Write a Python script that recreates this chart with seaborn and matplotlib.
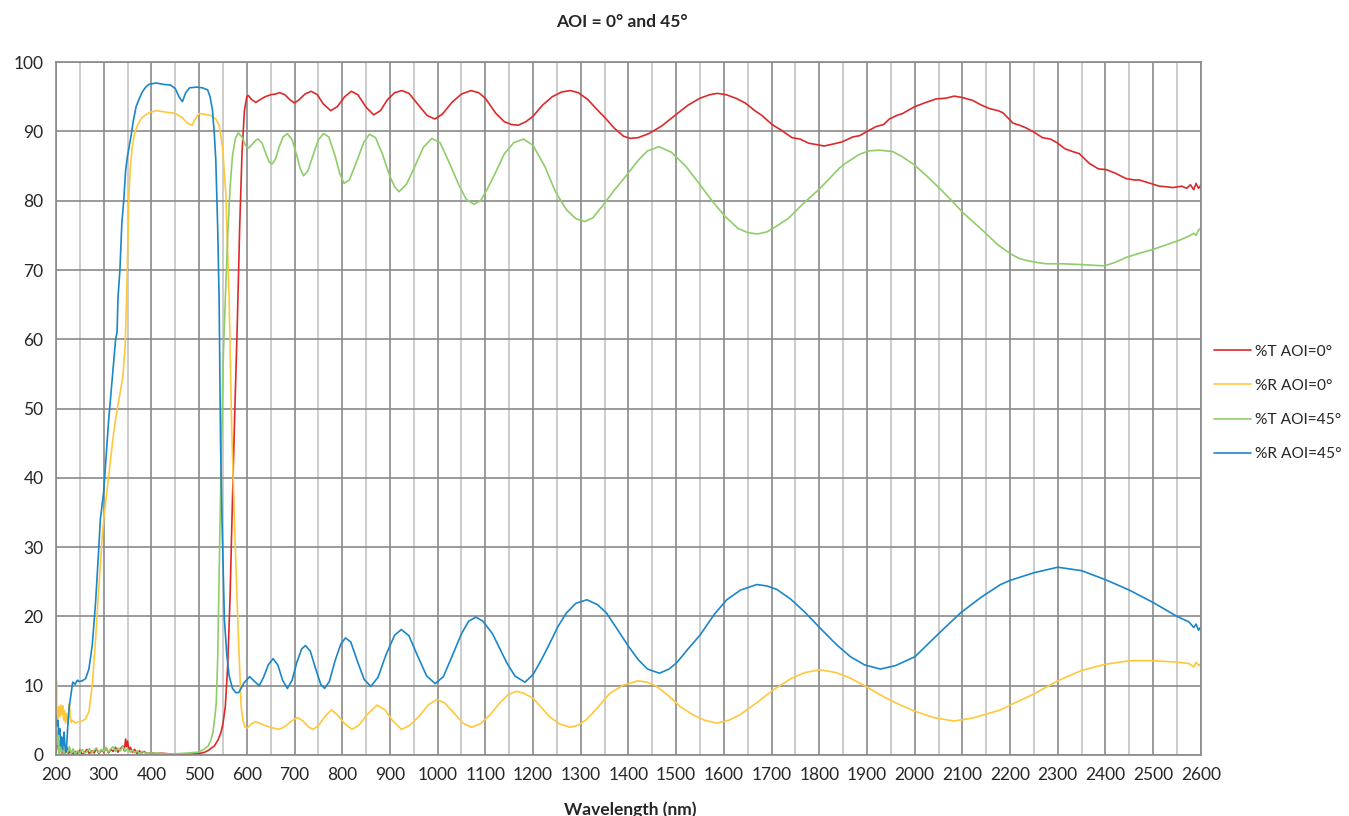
import matplotlib
matplotlib.use("Agg")
import matplotlib.pyplot as plt
import seaborn as sns
import numpy as np

# %T AOI=0 (red)
t0_wl = [200, 203, 206, 209, 212, 215, 218, 222, 226, 230, 235, 240, 245, 250, 255, 260, 265, 270, 275, 280,
         285, 290, 295, 300, 305, 310, 315, 320, 325, 330, 335, 340, 343, 346, 348, 350, 353, 356, 360, 365,
         370, 375, 380, 385, 390, 400, 410, 420, 440, 460, 480, 500, 512, 520, 532, 540, 546, 550, 555, 560,
         565, 570, 575, 580, 585, 590, 595, 600, 603, 610, 619, 628, 638, 650, 660, 669, 680, 690, 700, 710,
         722, 735, 748, 760, 776, 790, 805, 819, 833, 850, 866, 880, 895, 910, 925, 940, 960, 978, 994, 1010,
         1030, 1050, 1070, 1086, 1100, 1121, 1140, 1155, 1169, 1185, 1200, 1220, 1240, 1260, 1278, 1295, 1315,
         1335, 1352, 1370, 1390, 1404, 1420, 1443, 1470, 1499, 1525, 1550, 1570, 1586, 1605, 1625, 1645, 1665,
         1680, 1701, 1720, 1743, 1760, 1778, 1795, 1810, 1830, 1848, 1870, 1885, 1900, 1919, 1935, 1947, 1962,
         1975, 1990, 2001, 2020, 2045, 2065, 2083, 2100, 2121, 2140, 2157, 2175, 2185, 2195, 2206, 2220, 2234,
         2250, 2268, 2285, 2300, 2315, 2331, 2345, 2366, 2385, 2401, 2420, 2443, 2460, 2471, 2490, 2513, 2530,
         2541, 2560, 2570, 2578, 2585, 2590, 2595, 2600]
t0_val = [0.5, 2.6, 0.3, 1.8, 0.2, 0.9, 0.1, 1.2, 0.2, 0.6, 0.1, 0.5, 0.2, 0.7, 0.1, 0.4, 0.8, 0.2, 0.6, 0.3,
          0.9, 0.2, 0.7, 0.4, 1.0, 0.3, 0.8, 0.5, 1.1, 0.4, 0.9, 1.3, 0.6, 2.3, 1.2, 2.0, 0.7, 1.1, 0.4, 0.8,
          0.2, 0.6, 0.3, 0.5, 0.2, 0.3, 0.2, 0.25, 0.15, 0.1, 0.1, 0.2, 0.4, 0.7, 1.3, 2.2, 3.3, 4.5, 7.0, 13,
          23, 37, 50, 62, 76, 87, 93, 95.0, 95.2, 94.6, 94.2, 94.6, 95.0, 95.3, 95.4, 95.6, 95.3, 94.6, 94.1, 94.6,
          95.4, 95.8, 95.3, 94.0, 93.0, 93.6, 95.0, 95.8, 95.3, 93.5, 92.4, 93.0, 94.6, 95.6, 95.9, 95.5, 93.8,
          92.3, 91.8, 92.5, 94.2, 95.4, 95.9, 95.6, 94.8, 92.7, 91.4, 91.0, 90.9, 91.4, 92.2, 93.8, 95.0, 95.7,
          95.9, 95.6, 94.6, 93.1, 91.9, 90.5, 89.3, 89.0, 89.1, 89.7, 90.8, 92.4, 93.8, 94.8, 95.3, 95.5, 95.3,
          94.8, 94.1, 93.0, 92.3, 91.0, 90.2, 89.1, 88.9, 88.3, 88.1, 87.9, 88.2, 88.5, 89.2, 89.4, 90.0, 90.7,
          91.0, 91.8, 92.3, 92.6, 93.2, 93.6, 94.1, 94.7, 94.8, 95.1, 94.9, 94.5, 93.8, 93.3, 93.0, 92.7, 92.0,
          91.2, 90.9, 90.5, 89.9, 89.1, 88.9, 88.3, 87.5, 87.1, 86.8, 85.4, 84.6, 84.5, 84.0, 83.2, 83.0, 83.0,
          82.6, 82.1, 82.0, 81.9, 82.1, 81.8, 82.3, 81.6, 82.5, 81.8, 82.2]

# %R AOI=0 (yellow)
r0_wl = [200, 201, 202, 204, 206, 208, 210, 212, 214, 216, 218, 220, 222, 224, 226, 228, 230, 232, 235, 240,
         248, 255, 262, 269, 276, 283, 290, 297, 300, 305, 310, 315, 320, 325, 330, 335, 340, 345, 348, 351,
         353, 356, 360, 365, 371, 380, 395, 410, 430, 450, 465, 475, 485, 492, 500, 510, 525, 535, 542, 549,
         556, 563, 568, 574, 581, 588, 592, 596, 601, 610, 619, 630, 640, 655, 668, 680, 692, 706, 718, 730,
         739, 750, 763, 777, 790, 805, 821, 835, 852, 873, 890, 905, 924, 940, 960, 980, 998, 1015, 1035, 1053,
         1071, 1090, 1110, 1130, 1148, 1165, 1180, 1200, 1218, 1235, 1255, 1277, 1295, 1312, 1335, 1361, 1390,
         1420, 1440, 1459, 1485, 1508, 1535, 1560, 1585, 1610, 1634, 1670, 1704, 1740, 1770, 1802, 1835, 1865,
         1900, 1935, 1970, 2001, 2040, 2082, 2120, 2150, 2180, 2200, 2250, 2300, 2350, 2400, 2450, 2500, 2550,
         2575, 2585, 2590, 2595, 2600]
r0_val = [6.0, 10.7, 6.5, 5.2, 7.0, 5.5, 7.2, 5.8, 7.1, 5.0, 6.4, 4.6, 6.0, 5.2, 4.5, 7.4, 5.5, 4.7, 5.0, 4.6,
          4.8, 4.9, 5.2, 6.2, 10.0, 16.7, 24.4, 31.6, 34.0, 37, 40, 43, 46, 48.5, 50.5, 52.5, 54.5, 59, 66, 75,
          81, 85, 87.8, 89.8, 90.9, 92.0, 92.7, 93.0, 92.8, 92.6, 92.0, 91.2, 90.9, 91.8, 92.6, 92.5, 92.3, 91.8,
          90.9, 87.8, 81.1, 65.7, 48, 34, 19.6, 7.1, 5.0, 4.0, 3.9, 4.5, 4.8, 4.5, 4.2, 3.9, 3.7, 4.1, 4.8, 5.4,
          4.9, 4.0, 3.7, 4.2, 5.5, 6.5, 5.8, 4.5, 3.7, 4.3, 5.8, 7.2, 6.5, 5.0, 3.7, 4.2, 5.5, 7.2, 8.0, 7.5,
          6.0, 4.6, 4.0, 4.5, 5.8, 7.5, 8.7, 9.2, 8.9, 8.2, 6.8, 5.5, 4.5, 4.0, 4.3, 5.1, 6.8, 8.9, 10.1, 10.7,
          10.5, 9.9, 8.5, 7.0, 5.8, 5.0, 4.6, 5.0, 5.8, 7.6, 9.4, 11.0, 11.9, 12.3, 11.9, 11.1, 9.8, 8.4, 7.2,
          6.3, 5.4, 4.9, 5.3, 5.9, 6.5, 7.2, 8.8, 10.7, 12.2, 13.1, 13.6, 13.6, 13.4, 13.2, 12.7, 13.4, 12.9, 13.2]

# %T AOI=45 (green)
t45_wl = [200, 202, 204, 206, 208, 211, 214, 217, 220, 224, 228, 232, 236, 240, 245, 250, 255, 260, 265, 270,
          275, 280, 285, 290, 295, 300, 305, 310, 315, 320, 325, 330, 335, 340, 345, 350, 355, 360, 365, 370,
          375, 380, 390, 400, 420, 440, 460, 480, 498, 510, 519, 525, 529, 533, 536, 539, 543, 547, 551, 555,
          560, 565, 570, 576, 582, 590, 597, 604, 612, 620, 624, 632, 640, 647, 653, 660, 668, 676, 685, 695,
          705, 712, 719, 728, 740, 750, 761, 772, 785, 795, 804, 815, 830, 845, 857, 870, 885, 900, 910, 919,
          935, 950, 970, 988, 1005, 1025, 1045, 1060, 1076, 1090, 1105, 1121, 1140, 1160, 1180, 1200, 1225, 1247,
          1270, 1290, 1308, 1325, 1345, 1370, 1394, 1420, 1440, 1464, 1490, 1520, 1548, 1575, 1603, 1630, 1650,
          1670, 1690, 1710, 1736, 1765, 1799, 1820, 1842, 1855, 1884, 1905, 1926, 1954, 1975, 1999, 2025, 2052,
          2075, 2101, 2125, 2149, 2175, 2202, 2218, 2233, 2255, 2276, 2310, 2345, 2370, 2398, 2420, 2443, 2470,
          2501, 2530, 2555, 2575, 2585, 2590, 2595, 2600]
t45_val = [5.0, 1.5, 3.5, 0.2, 2.0, 0.3, 1.1, 0.1, 0.8, 0.3, 1.2, 0.2, 0.9, 0.1, 0.6, 0.3, 0.8, 0.2, 0.5, 0.9,
           0.3, 0.7, 1.0, 0.3, 0.8, 0.5, 1.1, 0.4, 0.9, 1.2, 0.5, 1.0, 0.6, 1.3, 0.5, 0.9, 0.4, 0.7, 0.3, 0.6,
           0.2, 0.5, 0.2, 0.3, 0.2, 0.15, 0.2, 0.3, 0.4, 0.8, 1.3, 2.2, 3.3, 5.5, 7.5, 14, 30, 45, 58, 66,
           75, 82, 86.5, 89.0, 89.8, 89.2, 88.0, 87.6, 88.2, 88.8, 88.9, 88.3, 86.8, 85.6, 85.3, 86.0, 87.8, 89.2,
           89.7, 88.8, 86.5, 84.6, 83.6, 84.3, 86.8, 88.8, 89.7, 89.2, 86.5, 83.9, 82.5, 83.0, 85.6, 88.4, 89.6,
           89.1, 86.6, 83.5, 82.0, 81.3, 82.4, 84.6, 87.7, 89.0, 88.4, 85.4, 82.2, 80.2, 79.5, 80.0, 81.8, 84.0,
           86.8, 88.4, 88.9, 88.0, 84.9, 81.3, 78.7, 77.4, 77.0, 77.5, 79.2, 81.5, 83.5, 85.8, 87.2, 87.8, 87.0,
           85.0, 82.5, 80.0, 77.7, 76.0, 75.4, 75.2, 75.5, 76.3, 77.5, 79.5, 81.6, 83.1, 84.7, 85.4, 86.7, 87.2,
           87.3, 87.1, 86.3, 85.2, 83.6, 81.8, 80.2, 78.3, 76.8, 75.3, 73.6, 72.3, 71.7, 71.4, 71.1, 70.9, 70.9,
           70.8, 70.7, 70.6, 71.1, 71.8, 72.4, 73.0, 73.7, 74.3, 74.9, 75.3, 75.0, 75.8, 76.0]

# %R AOI=45 (blue)
r45_wl = [200, 202, 204, 206, 208, 210, 212, 214, 216, 217, 219, 221, 223, 224, 226, 228, 231, 235, 240, 245,
          248, 255, 262, 269, 276, 283, 290, 293, 300, 305, 310, 315, 320, 325, 328, 330, 334, 338, 342, 346,
          350, 357, 362, 368, 375, 381, 388, 395, 410, 425, 440, 450, 458, 465, 472, 480, 495, 507, 518, 523,
          528, 532, 535, 539, 542, 545, 548, 553, 558, 563, 570, 577, 583, 594, 606, 615, 626, 635, 645, 655,
          665, 675, 685, 695, 705, 715, 723, 733, 745, 755, 763, 773, 785, 797, 807, 818, 832, 846, 860, 875,
          892, 910, 924, 940, 958, 977, 995, 1012, 1030, 1050, 1065, 1080, 1095, 1115, 1130, 1145, 1162, 1183,
          1200, 1218, 1235, 1252, 1270, 1290, 1313, 1335, 1354, 1375, 1400, 1420, 1440, 1465, 1485, 1501, 1525,
          1550, 1580, 1606, 1635, 1669, 1690, 1711, 1740, 1770, 1802, 1835, 1865, 1895, 1928, 1960, 2001, 2050,
          2096, 2140, 2180, 2200, 2250, 2300, 2350, 2400, 2450, 2500, 2550, 2575, 2585, 2590, 2595, 2600]
r45_val = [5.7, 4.2, 5.0, 3.0, 3.8, 1.3, 2.6, 0.8, 2.2, 3.3, 1.0, 0.4, 2.0, 3.3, 5.5, 7.1, 8.5, 10.5, 10.2, 10.8,
           10.6, 10.7, 11.0, 12.4, 15.8, 22.0, 30.2, 34, 38, 43, 48, 52, 56, 60, 61, 66, 70, 76.7, 80, 84.4,
           86.5, 89.2, 91.5, 93.6, 94.8, 95.7, 96.4, 96.8, 97.0, 96.8, 96.7, 96.2, 95.0, 94.3, 95.6, 96.3, 96.4,
           96.3, 96.0, 95.0, 93.1, 89.5, 85.9, 76, 65.7, 45, 34, 19.6, 14.5, 11.4, 9.6, 9.0, 9.0, 10.4, 11.3,
           10.7, 10.0, 11.2, 13.0, 13.9, 13.0, 10.8, 9.6, 10.8, 13.4, 15.3, 15.8, 15.0, 12.3, 10.2, 9.6, 10.6,
           13.6, 16.0, 16.9, 16.3, 13.5, 10.9, 9.9, 11.2, 14.5, 17.3, 18.1, 17.2, 14.3, 11.4, 10.3, 11.3, 14.2,
           17.5, 19.3, 19.9, 19.3, 17.5, 15.4, 13.3, 11.4, 10.5, 11.6, 13.8, 16.1, 18.5, 20.5, 21.9, 22.4, 21.7,
           20.5, 18.3, 15.7, 13.8, 12.4, 11.8, 12.4, 13.3, 15.3, 17.3, 20.3, 22.4, 23.8, 24.6, 24.4, 23.9, 22.5,
           20.6, 18.3, 16.0, 14.2, 13.0, 12.4, 12.9, 14.2, 17.5, 20.5, 22.8, 24.6, 25.2, 26.3, 27.1, 26.6, 25.3,
           23.8, 22.0, 20.0, 19.2, 18.4, 18.9, 18.0, 18.5]

series = [
    ("%T AOI=0°", t0_wl, t0_val, "#dc2a2a"),
    ("%R AOI=0°", r0_wl, r0_val, "#ffc83c"),
    ("%T AOI=45°", t45_wl, t45_val, "#8fcd6a"),
    ("%R AOI=45°", r45_wl, r45_val, "#1b86c8"),
]

sns.set_style("white")
plt.rcParams['font.family'] = ['Lato', 'DejaVu Sans']

fig = plt.figure(figsize=(13.49, 8.16), dpi=100)
ax = fig.add_axes([0.0415, 0.0748, 0.8487, 0.849])

for label, wl, val, col in series:
    sns.lineplot(x=wl, y=val, color=col, label=label, linewidth=1.2,
                 estimator=None, sort=False, ax=ax)

major_grey = "#8a8a8a"
minor_grey = "#c4c4c4"

ax.set_xlim(200, 2600)
ax.set_ylim(0, 100)
ax.set_xticks(np.arange(200, 2601, 100))
ax.set_xticks(np.arange(250, 2600, 100), minor=True)
ax.set_yticks(np.arange(0, 101, 10))
ax.grid(which="major", axis="both", color=major_grey, linewidth=1.2)
ax.grid(which="minor", axis="x", color=minor_grey, linewidth=1.2)
ax.set_axisbelow(True)
for s in ax.spines.values():
    s.set_color(major_grey)
    s.set_linewidth(1.2)

ax.tick_params(axis="both", which="major", labelsize=12.5, length=5, width=1.2,
               color=major_grey, direction="out")
ax.tick_params(axis="x", which="major", pad=4)
ax.tick_params(axis="y", which="major", pad=4)
ax.tick_params(axis="x", which="minor", length=0)
ax.set_xlabel("")
ax.set_ylabel("")

fig.text(622 / 1349, 1 - 22 / 816, "AOI = 0° and 45°", ha="center", va="center",
         fontsize=12.5, fontweight="bold")
fig.text(630 / 1349, 1 - 810 / 816, "Wavelength (nm)", ha="center", va="center",
         fontsize=12.5, fontweight="bold")

ax.legend(loc="center left", bbox_to_anchor=(1214 / 1349, 1 - 403 / 816),
          bbox_transform=fig.transFigure, frameon=False, fontsize=11.2,
          handlelength=2.4, handletextpad=0.25, labelspacing=1.3,
          borderpad=0, borderaxespad=0)

plt.savefig("out.png", dpi=100)
